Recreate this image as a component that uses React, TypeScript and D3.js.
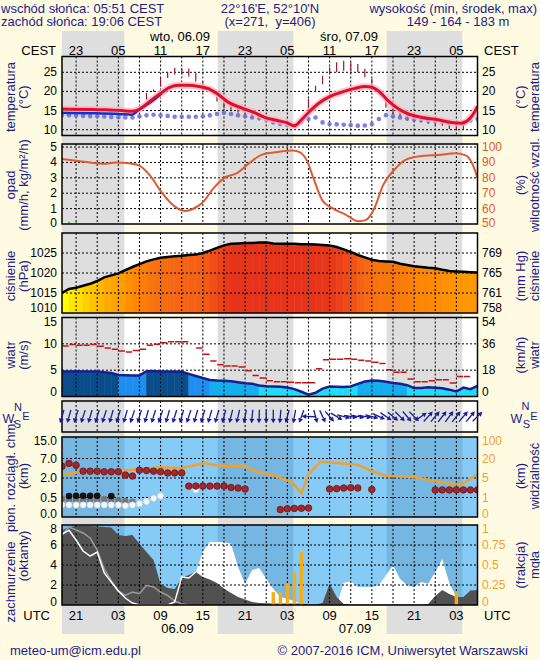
import React from 'react';
import * as d3 from 'd3';

// ---------------- data ----------------
// hours counted from 05.09 00 UTC
const HOURS = d3.range(19, 79);
const NIGHTS: [number, number][] = [[19, 27.85], [41.1, 51.85], [65.1, 75.85]];
const GRID_HOURS = d3.range(21, 76, 3);
const LABEL_HOURS = [21, 27, 33, 39, 45, 51, 57, 63, 69, 75];
const CEST_LABELS = ['23', '05', '11', '17', '23', '05', '11', '17', '23', '05'];
const UTC_LABELS = ['21', '03', '09', '15', '21', '03', '09', '15', '21', '03'];
const TOP_DATES = [{ h: 35.75, t: 'wto, 06.09' }, { h: 59.75, t: 'śro, 07.09' }];
const BOTTOM_DATES = [{ h: 35.4, t: '06.09' }, { h: 60.6, t: '07.09' }];

// temperature (2 m) readings
const TEMP_H = [19, 22.7, 25.1, 27.5, 28.9, 29.8, 31.2, 32.1, 33.1, 34.1, 35.5, 36.9, 38.4, 39.8, 41.2, 42.6, 44.5, 46.4, 47.8, 49.7, 51.0, 52.0, 53.0, 54.0, 55.6, 57.3, 58.7, 60.6, 62.0, 63.0, 63.9, 65.3, 66.8, 68.2, 70.1, 72.4, 74.3, 75.7, 76.6, 77.3, 78];
const TEMP = [15.4, 15.3, 15.2, 15.0, 14.8, 15.2, 17.0, 18.3, 19.6, 20.9, 21.6, 21.6, 21.3, 20.7, 19.2, 17.2, 15.7, 14.4, 13.2, 12.35, 11.8, 11.0, 12.6, 14.5, 17.1, 18.9, 19.8, 20.8, 21.3, 21.1, 20.2, 17.6, 15.4, 14.1, 13.2, 12.6, 11.9, 11.7, 12.4, 13.8, 16.1];
// second (blue) temperature line, first hours only
const TEMP2_H = [19, 23, 27, 28.9, 29.8, 31.2, 32.1, 33.1];
const TEMP2 = [14.4, 14.3, 14.1, 13.9, 15.0, 16.7, 17.9, 19.4];
// dew point, hourly 19..78
const DEW = [13.75, 13.75, 13.7, 13.6, 13.5, 13.5, 13.45, 13.3, 13.25, 13.2,
  13.2, 13.5, 13.75, 13.9, 13.75, 13.6, 13.4, 13.4, 13.4, 13.4,
  13.5, 13.75, 14.1, 14.4, 14.1, 13.75, 13.5, 13.2, 13.05, 12.6,
  11.9, 11.5, 11.2, 11.05, 12.1, 12.8, 13.2, 11.9, 11.5, 11.4,
  11.3, 11.2, 11.05, 11.1, 11.5, 12.8, 13.8, 13.5, 13.2, 12.9,
  12.7, 12.5, 12.35, 12.3, 12.1, 11.9, 11.75, 11.9, 12.35, 12.8];
// vertical range marks [hour, low, high]
const TMARK_H = [31, 32, 33, 34, 35, 36, 37, 38, 39, 41, 42, 43, 44, 45, 46, 47, 48, 49, 50, 51, 54, 55, 56, 57, 58, 59, 60, 61, 62, 63, 65, 66, 67, 68, 69, 70, 71, 72, 73, 74, 75, 76];
const TMARK_LO = [17.8, 19.9, 21.3, 23.5, 24.4, 24.4, 23.9, 22.6, 21.8, 17.4, 15.7, 15.2, 14.4, 13.7, 13.1, 12.4, 12.2, 11.5, 11.2, 10.9, 15.4, 19.8, 21.9, 24.6, 25.0, 25.4, 25.2, 25.0, 23.7, 21.5, 15.8, 14.1, 13.2, 12.4, 12.1, 11.9, 11.5, 11.2, 11.0, 10.2, 10.2, 10.2];
const TMARK_HI = [19.6, 20.5, 23.5, 25.1, 26.1, 26.1, 26.0, 24.8, 22.6, 18.7, 17.4, 16.5, 15.7, 15.2, 14.4, 13.9, 13.5, 12.8, 12.4, 12.1, 18.0, 21.5, 24.1, 26.3, 27.6, 28.0, 27.6, 27.2, 25.9, 23.3, 17.6, 15.8, 15.0, 14.1, 13.8, 13.5, 13.2, 12.8, 12.6, 12.4, 11.9, 11.9];

// precipitation
const PREC_H = [20, 21];
const PREC = [0.15, 0.2];
// relative humidity
const RH_H = [19, 21.3, 24.8, 26.7, 28.2, 29.9, 31.6, 33.1, 34.6, 35.6, 36.6, 37.5, 39.0, 40.5, 42.0, 43.9, 45.4, 47.4, 49.3, 51.8, 52.8, 53.8, 54.7, 56.0, 57.2, 59.2, 61.1, 62.1, 63.3, 64.6, 66.0, 68.0, 70.5, 72.4, 74.9, 76.4, 77.6, 78];
const RH = [92.2, 91, 89.2, 89.9, 89.6, 88.1, 80.9, 70.9, 63, 59.6, 58.5, 59.6, 64.1, 73.1, 79.8, 83.2, 88.8, 95.1, 96.6, 97.8, 96.5, 91, 79.8, 65.2, 60.8, 56.3, 51.8, 52.5, 59.6, 75.3, 84.3, 92.2, 94.4, 94.8, 96, 94.4, 85.4, 79.8];

// pressure hourly (hPa)
const PRESSURE = [1015.0, 1016.0, 1016.3, 1016.8, 1017.3, 1018.0, 1018.9, 1019.4, 1019.9, 1020.7,
  1021.5, 1022.2, 1022.9, 1023.4, 1023.8, 1024.0, 1024.2, 1024.3, 1024.5, 1024.6,
  1025.0, 1025.6, 1026.3, 1026.9, 1027.3, 1027.4, 1027.5, 1027.5, 1027.6, 1027.6,
  1027.4, 1027.3, 1027.3, 1027.3, 1027.2, 1027.2, 1027.1, 1027.0, 1026.9, 1026.5,
  1025.9, 1025.3, 1024.5, 1023.9, 1023.3, 1023.0, 1022.9, 1022.8, 1022.3, 1022.0,
  1021.7, 1021.5, 1021.3, 1021.2, 1020.8, 1020.5, 1020.4, 1020.3, 1020.2, 1020.1];

// wind speed hourly (m/s)
const WIND = [4.75, 4.75, 4.8, 4.75, 4.75, 4.75, 4.6, 4.45, 4.1, 4.05,
  4.0, 4.0, 4.8, 4.85, 4.75, 4.75, 4.75, 4.7, 4.3, 3.9,
  3.5, 3.15, 3.05, 3.0, 2.9, 2.7, 2.5, 2.4, 2.1, 1.95,
  1.9, 1.85, 1.7, 1.4, 0.9, 0.35, 0.7, 1.5, 1.9, 1.85,
  1.8, 1.9, 2.4, 2.85, 3.05, 3.0, 2.8, 2.55, 2.4, 2.15,
  1.6, 1.6, 1.75, 1.65, 1.55, 1.3, 0.95, 1.7, 1.4, 2.0];
// gusts hourly (m/s), null = none
const GUST: (number | null)[] = [9.6, 9.87, 9.74, 9.74, 9.87, 9.55, 9.23, 8.97, 8.65, 8.46,
  8.72, 8.97, 9.74, 9.94, 10.19, 10.38, 10.38, 10.38, null, 9.23,
  8.0, 6.73, 6.03, 5.77, 5.77, 5.58, 4.87, 3.97, 3.53, 3.0,
  2.82, 2.82, 2.7, 2.63, 2.63, 2.63, 5.26, 6.99, 7.05, 7.05,
  7.18, 7.05, 6.9, 6.73, 6.5, 6.28, 5.06, 4.6, 4.6, 3.33,
  2.82, 2.82, 3.0, 3.2, 3.2, 2.56, 3.78, 3.78, null, null];
// wind direction (direction the arrow points to, degrees)
const WIND_DIR = [197, 196, 197, 198, 196, 197, 198, 196, 197, 196, 198, 197, 196, 197, 198, 196, 197, 197, 198, 196, 197, 196,
  196, 195, 194, 193, 191, 186, 182,
  180, 180, 185, 195, 190, 200,
  272, 165, 155, 140, 120,
  105, 100, 100, 100, 105, 115, 125, 130, 135, 140, 135,
  55, 42, 40, 38, 36, 38, 40, 40, 45];

// visibility (km)
const VIS_H = [19, 21.3, 26.7, 29.6, 33.1, 36, 39.2, 41.4, 44.9, 46.3, 49.3, 51.7, 53, 54, 55.7, 58, 61, 62.8, 65, 68.9, 71.9, 74.8, 76, 78];
const VIS = [7.5, 9.5, 10, 11.8, 13.2, 12.5, 16.5, 14.5, 14.5, 10.6, 6.7, 4.1, 1.8, 8, 17.5, 16.5, 15.2, 10.6, 6.7, 5.8, 4.4, 3.7, 3.9, 7.8];
// cloud layer dots (km)
const RED_H = [19, 20, 21, 22, 23, 24, 25, 26, 27, 28, 29, 30, 31, 32, 33, 34, 35, 36, 37, 38, 39, 40, 41, 42, 43, 44, 45, 50, 51, 52, 53, 54, 57, 58, 59, 60, 61, 63, 72, 73, 74, 75, 76, 77, 78];
const RED_KM = [5.0, 5.75, 5.25, 3.75, 3.75, 3.75, 3.6, 3.6, 3.6, 2.75, 2.5, 4.0, 3.9, 3.75, 3.6, 3.3, 3.3, 3.3, 1.38, 1.38, 1.38, 1.38, 1.38, 1.38, 1.27, 1.23, 1.15, 0.19, 0.21, 0.22, 0.225, 0.23, 1.15, 1.18, 1.23, 1.25, 1.23, 1.12, 1.08, 1.08, 1.08, 1.08, 1.08, 1.08, 1.08];
const BLACK_H = [20, 21, 22, 23, 24, 26];
const BLACK_KM = [0.62, 0.63, 0.64, 0.64, 0.63, 0.62];
const GRAY_H = [19, 20, 21, 22, 23, 24, 25, 26, 27, 28, 29];
const GRAY_KM = [0.46, 0.44, 0.44, 0.44, 0.44, 0.44, 0.46, 0.44, 0.43, 0.41, 0.39];
const WHITE_H = [19, 20, 21, 22, 23, 24, 25, 26, 27, 28, 29, 30, 31, 32, 33, 38];
const WHITE_KM = [0.31, 0.31, 0.31, 0.31, 0.31, 0.31, 0.31, 0.31, 0.31, 0.29, 0.31, 0.34, 0.4, 0.48, 0.62, 1.1];

// cloud cover (octants), hourly 19..78
const LOW_CLOUD = [7.47, 7.8, 7.9, 7.9, 7.9, 7.85, 7.8, 7.75, 7.0, 6.9,
  7.0, 6.13, 5.3, 4.5, 2.1, 1.7, 1.6, 2.7, 3.0, 3.3,
  2.8, 2.55, 2.2, 1.65, 1.2, 0.8, 0.55, 0.3, 0.2, 0.17,
  0.15, 0.15, 0.15, 0.15, 0.15, 0.05, 0.05, 0.2, 2.13, 0.8,
  0.1, 0.05, 0.05, 0.05, 0.05, 0.05, 0.05, 0.05, 0.05, 0.05,
  0.05, 0.05, 0.1, 0.9, 1.5, 1.1, 0.8, 0.8, 1.45, 1.5];
const MID_CLOUD = [0, 0, 0, 0, 0, 0, 0, 0, 0, 0,
  0, 0, 0, 0, 0, 0, 0, 0, 0, 3.3,
  5.3, 6.3, 6.3, 6.3, 6.13, 3.8, 2.13, 3.5, 3.7, 2.63,
  1.63, 0.8, 0.63, 0.37, 0.13, 0, 0, 0, 0, 0,
  2.2, 2.37, 1.8, 1.8, 1.8, 1.97, 2.97, 3.97, 2.63, 1.97,
  1.8, 2.3, 2.13, 3.3, 4.6, 2.2, 0.8, 0.7, 0.5, 0.5];
// lines (first hours only, 19..)
const WHITE_LINE = [7.1, 7.47, 6.5, 5.4, 4.9, 5.3, 3.2, 2.3, 1.4, 0.7, 0.2, 0, 0, 0, 0, 0, 0.3, 2.8, 2.7, 3.3];
const GRAY_LINE = [7.0, 7.8, 7.5, 7.2, 6.7, 5.5, 3.6, 2.4, 1.4, 0.95, 1.3, 1.13, 1.97, 1.8, 1.3, 0.97, 0.4, 0.13, 0];
// fog fraction bars
const FOG_H = [49, 50, 51, 52, 53, 75];
const FOG = [0.16, 0.16, 0.27, 0.41, 0.66, 0.16];

// tick labels
const TEMP_TICKS = [10, 15, 20, 25];
const PREC_TICKS = [0, 1, 2, 3, 4, 5];
const RH_TICKS = [50, 60, 70, 80, 90, 100];
const PRES_TICKS = [1010, 1015, 1020, 1025];
const MMHG_LABELS = ['758', '761', '765', '769'];
const WIND_TICKS = [0, 5, 10, 15];
const KMH_LABELS = ['0', '18', '36', '54'];
const KM_TICKS = [0, 0.5, 2, 7, 15];
const KM_LABELS = ['0.0', '0.5', '2.0', '7.0', '15.0'];
const VIS_TICKS = [0, 1, 5, 20, 100];
const OKT_TICKS = [0, 2, 4, 6, 8];
const FRAC_TICKS = [0, 0.25, 0.5, 0.75, 1];
const FRAC_LABELS = ['0', '0.25', '0.5', '0.75', '1'];

// ---------------- drawing ----------------
const FONT = '"Liberation Sans", Arial, Helvetica, sans-serif';
const NAVY = '#1c1c8a';
const XL = 62, XR = 477.5;

type Pan = { top: number; bot: number };

export default function App() {
  const x = d3.scaleLinear().domain([19, 78]).range([XL, XR]);

  const PT: Pan = { top: 56.5, bot: 135.5 };
  const PP: Pan = { top: 144, bot: 224 };
  const PR: Pan = { top: 233, bot: 313 };
  const PW: Pan = { top: 317.5, bot: 396.5 };
  const PD: Pan = { top: 401, bot: 432 };
  const PV: Pan = { top: 437, bot: 517 };
  const PC: Pan = { top: 525, bot: 605 };

  const yT = d3.scaleLinear().domain([8.48, 29.13]).range([PT.bot, PT.top]);
  const yPrec = d3.scaleLinear().domain([0, 5.2]).range([PP.bot, PP.top]);
  const yRH = d3.scaleLinear().domain([50, 102]).range([PP.bot, PP.top]);
  const yPr = d3.scaleLinear().domain([1010, 1030]).range([PR.bot, PR.top]);
  const yW = d3.scaleLinear().domain([0, 15]).range([PW.bot, PW.top]);
  const yKm = d3.scaleLinear().domain([0, 0.5, 2, 7, 15]).range([517, 497.5, 478, 458.5, 439]);
  const yVis = d3.scaleLinear().domain([0, 1, 5, 20, 100]).range([517, 497.5, 478, 458.5, 439]);
  const yOk = d3.scaleLinear().domain([0, 8]).range([PC.bot, PC.top]);
  const yFr = d3.scaleLinear().domain([0, 1]).range([PC.bot, PC.top]);

  const presColor = d3.scaleLinear<string>()
    .domain([1015, 1016, 1017, 1019, 1020.5, 1022, 1023.5, 1024.5, 1026, 1027.2])
    .range(['#ffff00', '#ffe800', '#ffc800', '#ffa800', '#ff9400', '#fc8008', '#f7700f', '#f46214', '#ee4818', '#e6341b'])
    .clamp(true);
  const windColor = d3.scaleThreshold<number, string>()
    .domain([2.4, 3.5, 4.4])
    .range(['#22daf7', '#16adef', '#1e8ff0', '#0b4d8b']);

  const lineXY = (xs: number[], ys: number[], ys2: (v: number) => number, curve: any = d3.curveLinear) =>
    d3.line<number>().x((_, i) => x(xs[i])).y((v) => ys2(v)).curve(curve)(ys) || '';

  const nightRects = (p: Pan, fill: string, op = 1) =>
    NIGHTS.map(([a, b], i) => {
      const xa = Math.max(XL, x(a)), xb = Math.min(XR, x(b));
      return <rect key={'n' + i} x={xa} y={p.top} width={xb - xa} height={p.bot - p.top} fill={fill} fillOpacity={op} />;
    });
  const vGrid = (p: Pan) =>
    GRID_HOURS.map((h) => (
      <line key={'v' + h} x1={x(h)} x2={x(h)} y1={p.top} y2={p.bot} stroke="#000" strokeWidth={1} strokeDasharray="2,2" />
    ));
  const hGrid = (ys: number[]) =>
    ys.map((y, i) => <line key={'h' + i} x1={XL} x2={XR} y1={y} y2={y} stroke="#000" strokeWidth={1} strokeDasharray="2,2" />);
  const frame = (p: Pan) => (
    <rect x={XL} y={p.top} width={XR - XL} height={p.bot - p.top} fill="none" stroke="#000" strokeWidth={1.5} />
  );
  const clampY = (y: number, p: Pan, m: number) => Math.min(Math.max(y, p.top + m), p.bot - m);
  const leftTicks = (vals: number[], sc: (v: number) => number, p: Pan, m: number, labels?: string[], color = '#000') =>
    vals.map((v, i) => (
      <text key={'lt' + i} x={57} y={clampY(sc(v), p, m)} textAnchor="end" dominantBaseline="central" fontSize={12} fill={color}>
        {labels ? labels[i] : String(v)}
      </text>
    ));
  const rightTicks = (vals: number[], sc: (v: number) => number, p: Pan, m: number, labels?: string[], color = '#000') =>
    vals.map((v, i) => (
      <text key={'rt' + i} x={482} y={clampY(sc(v), p, m)} textAnchor="start" dominantBaseline="central" fontSize={12} fill={color}>
        {labels ? labels[i] : String(v)}
      </text>
    ));
  const vTitle = (xx: number, yy: number, t: string, key: string) => (
    <text key={key} transform={`translate(${xx},${yy}) rotate(-90)`} textAnchor="middle" dominantBaseline="central" fontSize={13} fill={NAVY}>
      {t}
    </text>
  );
  const titles = (left: [string, string], right: [string, string], cy: number) => [
    vTitle(10, cy, left[0], 'a'),
    vTitle(23, cy, left[1], 'b'),
    vTitle(520, cy, right[0], 'c'),
    vTitle(534, cy, right[1], 'd'),
  ];
  const clip = (id: string, p: Pan) => (
    <clipPath id={id}><rect x={XL} y={p.top} width={XR - XL} height={p.bot - p.top} /></clipPath>
  );

  // wind columns
  const windCols = HOURS.slice(0, -1).map((h, i) => {
    const c = windColor(WIND[i]);
    const pts = [[x(h), yW(WIND[i])], [x(h + 1), yW(WIND[i + 1])], [x(h + 1), PW.bot], [x(h), PW.bot]];
    return <polygon key={'wc' + h} points={pts.map((p) => p.join(',')).join(' ')} fill={c} stroke={c} strokeWidth={0.6} />;
  });
  const presCols = HOURS.slice(0, -1).map((h, i) => {
    const c = presColor(PRESSURE[i]);
    const pts = [[x(h), yPr(PRESSURE[i])], [x(h + 1), yPr(PRESSURE[i + 1])], [x(h + 1), PR.bot], [x(h), PR.bot]];
    return <polygon key={'pc' + h} points={pts.map((p) => p.join(',')).join(' ')} fill={c} stroke={c} strokeWidth={0.6} />;
  });

  const arrows = HOURS.map((h, i) => {
    const a = (WIND_DIR[i] * Math.PI) / 180;
    const L = 13.5;
    const ux = Math.sin(a), uy = -Math.cos(a);
    const cx = x(h), cy = 416.5;
    const x1 = cx - (ux * L) / 2, y1 = cy - (uy * L) / 2;
    const x2 = cx + (ux * L) / 2, y2 = cy + (uy * L) / 2;
    const hl = 4.5, hw = 2.5;
    const bx = x2 - ux * hl, by = y2 - uy * hl;
    const px = -uy, py = ux;
    return (
      <g key={'ar' + h}>
        <line x1={x1} y1={y1} x2={bx} y2={by} stroke="#1a1a9c" strokeWidth={1.3} />
        <polygon points={`${x2},${y2} ${bx + px * hw},${by + py * hw} ${bx - px * hw},${by - py * hw}`} fill="#1a1a9c" />
      </g>
    );
  });

  const areaOk = (vals: number[]) =>
    d3.area<number>().x((_, i) => x(HOURS[i])).y0(yOk(0)).y1((v) => yOk(v))(vals) || '';

  const tempPath = lineXY(TEMP_H, TEMP, yT, d3.curveMonotoneX);

  return (
    <div style={{ position: 'absolute', left: 0, top: 0 }}>
      <svg width={540} height={660} style={{ display: 'block', fontFamily: FONT }}>
        <defs>
          {clip('cT', PT)}
          {clip('cP', PP)}
          {clip('cR', PR)}
          {clip('cW', PW)}
          {clip('cV', PV)}
          {clip('cC', PC)}
        </defs>
        <rect width={540} height={660} fill="#fffbe3" />
        {NIGHTS.map(([a, b], i) => (
          <rect key={'gn' + i} x={x(a)} y={31} width={x(b) - x(a)} height={603} fill="#dedede" />
        ))}

        {/* header */}
        <g fontSize={13} fill={NAVY}>
          <text x={1} y={12.5}>wschód słońca: 05:51 CEST</text>
          <text x={1} y={26}>zachód słońca: 19:06 CEST</text>
          <text x={270} y={12.5} textAnchor="middle">22°16'E, 52°10'N</text>
          <text x={270} y={26} textAnchor="middle" style={{ whiteSpace: 'pre' }}>(x=271,  y=406)</text>
          <text x={537} y={12.5} textAnchor="end">wysokość (min, środek, max)</text>
          <text x={458} y={26} textAnchor="middle">149 - 164 - 183 m</text>
        </g>
        <g fontSize={13} fill="#000">
          {TOP_DATES.map((d) => (
            <text key={d.t} x={x(d.h)} y={41} textAnchor="middle">{d.t}</text>
          ))}
          {LABEL_HOURS.map((h, i) => (
            <text key={'ce' + h} x={x(h)} y={54.5} textAnchor="middle">{CEST_LABELS[i]}</text>
          ))}
          <text x={56} y={54.5} textAnchor="end">CEST</text>
          <text x={484} y={54.5}>CEST</text>
        </g>

        {/* panel 1: temperature */}
        <rect x={XL} y={PT.top} width={XR - XL} height={PT.bot - PT.top} fill="#fff" />
        {nightRects(PT, '#dedede')}
        {vGrid(PT)}
        {hGrid(TEMP_TICKS.map(yT))}
        <g clipPath="url(#cT)">
          {TMARK_H.map((h, i) => (
            <line key={'tm' + h} x1={x(h)} x2={x(h)} y1={yT(TMARK_LO[i])} y2={yT(TMARK_HI[i])} stroke="#8e1b2e" strokeWidth={1.2} />
          ))}
          {DEW.map((v, i) => (
            <circle key={'dw' + i} cx={x(HOURS[i])} cy={yT(v)} r={2.3} fill="#6a6ad8" fillOpacity={0.85} />
          ))}
          <path d={tempPath} fill="none" stroke="#ffb3c4" strokeWidth={7} strokeOpacity={0.7} />
          <path d={lineXY(TEMP2_H, TEMP2, yT, d3.curveMonotoneX)} fill="none" stroke="#1030d0" strokeWidth={2.5} />
          <path d={tempPath} fill="none" stroke="#e0102c" strokeWidth={3} />
        </g>
        {frame(PT)}
        {leftTicks(TEMP_TICKS, yT, PT, 0)}
        {rightTicks(TEMP_TICKS, yT, PT, 0)}
        {titles(['temperatura', '(°C)'], ['(°C)', 'temperatura'], 97)}

        {/* panel 2: precipitation / humidity */}
        <rect x={XL} y={PP.top} width={XR - XL} height={PP.bot - PP.top} fill="#fff" />
        {nightRects(PP, '#dedede')}
        {vGrid(PP)}
        {hGrid([1, 2, 3, 4, 5].map(yPrec))}
        <g clipPath="url(#cP)">
          {PREC_H.map((h, i) => (
            <rect key={'pr' + h} x={x(h) - 0.5} y={yPrec(PREC[i])} width={1} height={yPrec(0) - yPrec(PREC[i])} fill="#10a010" />
          ))}
          <path d={lineXY(RH_H, RH, yRH, d3.curveMonotoneX)} fill="none" stroke="#e05a30" strokeWidth={2} />
        </g>
        {frame(PP)}
        {leftTicks(PREC_TICKS, yPrec, PP, 1)}
        {rightTicks(RH_TICKS, yRH, PP, 1, undefined, '#e05a2b')}
        {titles(['opad', '(mm/h, kg/m²/h)'], ['(%)', 'wilgotność wzgl.'], 185)}

        {/* panel 3: pressure */}
        <rect x={XL} y={PR.top} width={XR - XL} height={PR.bot - PR.top} fill="#fff" />
        {nightRects(PR, '#dedede')}
        <g clipPath="url(#cR)">
          {presCols}
          <path d={lineXY(HOURS, PRESSURE, yPr)} fill="none" stroke="#000" strokeWidth={2.5} />
        </g>
        {vGrid(PR)}
        {hGrid([1015, 1020, 1025].map(yPr))}
        {frame(PR)}
        {leftTicks(PRES_TICKS, yPr, PR, 5)}
        {rightTicks(PRES_TICKS, yPr, PR, 5, MMHG_LABELS)}
        {titles(['ciśnienie', '(hPa)'], ['(mm Hg)', 'ciśnienie'], 276)}

        {/* panel 4: wind speed */}
        <rect x={XL} y={PW.top} width={XR - XL} height={PW.bot - PW.top} fill="#fff" />
        {nightRects(PW, '#dedede')}
        <g clipPath="url(#cW)">
          {windCols}
        </g>
        {vGrid(PW)}
        {hGrid([5, 10].map(yW))}
        <g clipPath="url(#cW)">
          {GUST.map((g, i) =>
            g == null || i >= HOURS.length - 1 ? null : (
              <line key={'gu' + i} x1={x(HOURS[i]) + 0.4} x2={x(HOURS[i] + 1) - 0.4} y1={yW(g)} y2={yW(g)} stroke="#cc1010" strokeWidth={1.5} />
            )
          )}
          <path d={lineXY(HOURS, WIND, yW)} fill="none" stroke="#16208e" strokeWidth={2.5} />
        </g>
        {frame(PW)}
        {leftTicks(WIND_TICKS, yW, PW, 4.5)}
        {rightTicks(WIND_TICKS, yW, PW, 4.5, KMH_LABELS)}
        {titles(['wiatr', '(m/s)'], ['(km/h)', 'wiatr'], 355)}

        {/* panel 5: wind direction */}
        <rect x={XL} y={PD.top} width={XR - XL} height={PD.bot - PD.top} fill="#fff" />
        {nightRects(PD, '#dedede')}
        {vGrid(PD)}
        {frame(PD)}
        {arrows}
        <g fill={NAVY} textAnchor="middle">
          <text x={8.5} y={422.5} fontSize={12.5}>W</text>
          <text x={18} y={410.5} fontSize={11}>N</text>
          <text x={26} y={419.5} fontSize={11}>E</text>
          <text x={17.5} y={427.5} fontSize={11}>S</text>
          <text x={516.5} y={423} fontSize={12.5}>W</text>
          <text x={525.5} y={410} fontSize={11}>N</text>
          <text x={534} y={419.5} fontSize={11}>E</text>
          <text x={526.5} y={427.5} fontSize={11}>S</text>
        </g>

        {/* panel 6: cloud extent / visibility */}
        <rect x={XL} y={PV.top} width={XR - XL} height={PV.bot - PV.top} fill="#86cbf5" />
        {nightRects(PV, '#0a2850', 0.12)}
        {vGrid(PV)}
        {hGrid([0.5, 2, 7].map(yKm))}
        <g clipPath="url(#cV)">
          <path d={lineXY(VIS_H, VIS, yVis)} fill="none" stroke="#f0a030" strokeWidth={2.5} />
          {GRAY_H.map((h, i) => (
            <circle key={'gd' + h} cx={x(h)} cy={yKm(GRAY_KM[i])} r={3.2} fill="#767676" />
          ))}
          {BLACK_H.map((h, i) => (
            <circle key={'bd' + h} cx={x(h)} cy={yKm(BLACK_KM[i])} r={3.3} fill="#111" />
          ))}
          {WHITE_H.map((h, i) => (
            <circle key={'wd' + h} cx={x(h)} cy={yKm(WHITE_KM[i])} r={3.1} fill="#f6f6f6" stroke="#d0d0d0" strokeWidth={0.5} />
          ))}
          {RED_H.map((h, i) => (
            <circle key={'rd' + h} cx={x(h)} cy={yKm(RED_KM[i])} r={3.3} fill="#a4262c" stroke="#6a1418" strokeWidth={0.8} />
          ))}
        </g>
        {frame(PV)}
        {leftTicks(KM_TICKS, yKm, PV, 3.5, KM_LABELS)}
        {rightTicks(VIS_TICKS, yVis, PV, 3.5, undefined, '#f0a030')}
        {titles(['pion. rozciągł. chm.', '(km)'], ['(km)', 'widzialność'], 476)}

        {/* panel 7: cloud cover */}
        <rect x={XL} y={PC.top} width={XR - XL} height={PC.bot - PC.top} fill="#86cbf5" />
        {nightRects(PC, '#0a2850', 0.12)}
        <g clipPath="url(#cC)">
          <path d={areaOk(MID_CLOUD)} fill="#ffffff" />
          <path d={areaOk(LOW_CLOUD)} fill="#515151" />
        </g>
        {vGrid(PC)}
        {hGrid([2, 4, 6].map(yOk))}
        <g clipPath="url(#cC)">
          <path d={lineXY(HOURS.slice(0, GRAY_LINE.length), GRAY_LINE, yOk)} fill="none" stroke="#9a9a9a" strokeWidth={1.5} />
          <path d={lineXY(HOURS.slice(0, WHITE_LINE.length), WHITE_LINE, yOk)} fill="none" stroke="#ffffff" strokeWidth={1.5} />
          {FOG_H.map((h, i) => (
            <rect key={'fg' + h} x={x(h) - 1.7} y={yFr(FOG[i])} width={3.4} height={yFr(0) - yFr(FOG[i])} fill="#f4ad18" />
          ))}
        </g>
        {frame(PC)}
        {leftTicks(OKT_TICKS, yOk, PC, 3.5)}
        {rightTicks(FRAC_TICKS, yFr, PC, 3.5, FRAC_LABELS, '#f0a030')}
        {vTitle(10, 582, 'zachmurzenie', 'z1')}
        {vTitle(23, 556, '(oktanty)', 'z2')}
        {vTitle(520, 565, '(frakcja)', 'z3')}
        {vTitle(534, 565, 'mgła', 'z4')}

        {/* bottom axis */}
        <g fontSize={13} fill="#000">
          {LABEL_HOURS.map((h, i) => (
            <text key={'ut' + h} x={x(h)} y={619.5} textAnchor="middle">{UTC_LABELS[i]}</text>
          ))}
          <text x={50} y={619.5} textAnchor="end">UTC</text>
          <text x={484} y={619.5}>UTC</text>
          {BOTTOM_DATES.map((d) => (
            <text key={d.t} x={x(d.h)} y={633} textAnchor="middle">{d.t}</text>
          ))}
        </g>

        {/* footer */}
        <g fontSize={13} fill={NAVY}>
          <text x={10} y={655}>meteo-um@icm.edu.pl</text>
          <text x={528} y={655} textAnchor="end">© 2007-2016 ICM, Uniwersytet Warszawski</text>
        </g>
      </svg>
    </div>
  );
}
